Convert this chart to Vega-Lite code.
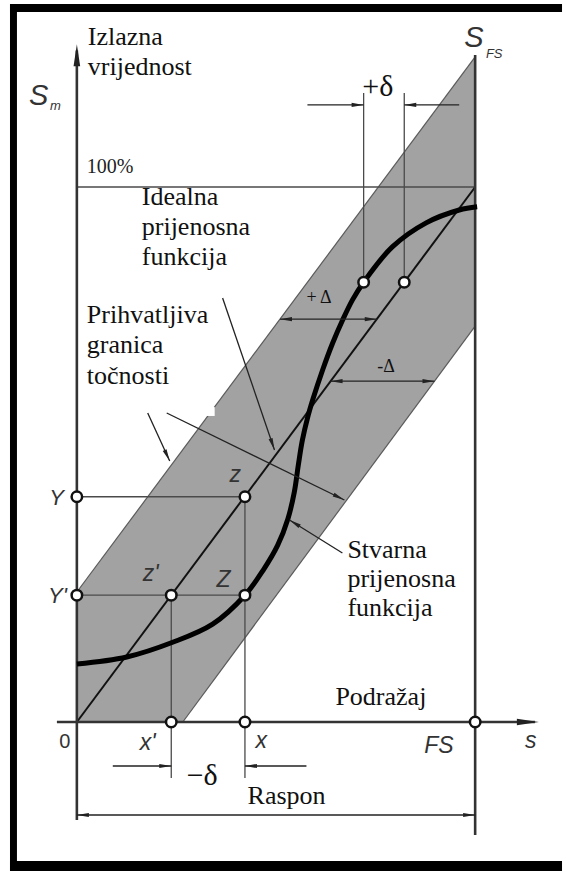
{
  "$schema": "https://vega.github.io/schema/vega-lite/v6.json",
  "width": 563,
  "height": 871,
  "autosize": {"type": "fit", "contains": "padding"},
  "padding": 0,
  "background": "white",
  "config": {"view": {"stroke": null}},
  "datasets": {
    "frame": [
      {"x": -16.79, "x2": -15.04, "y": -27.85, "y2": 134.2},
      {"x": -16.79, "x2": 121.81, "y": 132.7, "y2": 134.2},
      {"x": -16.79, "x2": 121.81, "y": -27.85, "y2": -25.98}
    ],
    "band": [
      {"x": 0, "lo": 0, "hi": 24.3},
      {"x": 26.6, "lo": 0, "hi": 50.9},
      {"x": 100, "lo": 74.0, "hi": 124.3}
    ],
    "bandEdges": [
      {"x": 0, "y": 24.3, "x2": 100, "y2": 124.3},
      {"x": 26.6, "y": 0, "x2": 100, "y2": 74.0}
    ],
    "patch": [{"x": 31.6, "x2": 34.6, "y": 57.2, "y2": 58.9}],
    "guides": [
      {"x": 0, "y": 100, "x2": 100, "y2": 100},
      {"x": 0, "y": 42.1, "x2": 42.2, "y2": 42.1},
      {"x": 0, "y": 23.7, "x2": 42.2, "y2": 23.7},
      {"x": 23.7, "y": 23.7, "x2": 23.7, "y2": -10.47},
      {"x": 42.2, "y": 42.1, "x2": 42.2, "y2": -10.47},
      {"x": 72.0, "y": 82.2, "x2": 72.0, "y2": 117.57},
      {"x": 82.2, "y": 82.2, "x2": 82.2, "y2": 117.57}
    ],
    "ideal": [{"x": 0, "y": 0, "x2": 100, "y2": 100}],
    "axes": [
      {"x": 0, "y": -18.32, "x2": 0, "y2": 125.5},
      {"x": -5.01, "y": 0, "x2": 115, "y2": 0},
      {"x": 100, "y": -21.12, "x2": 100, "y2": 124.67}
    ],
    "curve": [
      {"x": 0, "y": 10.84}, {"x": 12.53, "y": 12.15}, {"x": 24.06, "y": 14.9},
      {"x": 34.09, "y": 18.3}, {"x": 42.2, "y": 23.7}, {"x": 46.8, "y": 28.4},
      {"x": 50.4, "y": 33.0}, {"x": 53.0, "y": 38.0}, {"x": 54.6, "y": 43.0},
      {"x": 55.6, "y": 48.0}, {"x": 56.6, "y": 52.6}, {"x": 57.9, "y": 56.8},
      {"x": 59.3, "y": 60.4}, {"x": 61.7, "y": 65.8}, {"x": 64.2, "y": 70.8},
      {"x": 66.7, "y": 75.1}, {"x": 69.2, "y": 78.9}, {"x": 72.0, "y": 82.2},
      {"x": 79.2, "y": 88.8}, {"x": 87.7, "y": 93.3}, {"x": 96.0, "y": 95.7},
      {"x": 100.5, "y": 96.3}
    ],
    "pointers": [
      {"x": 57.89, "y": 115.33, "x2": 72.0, "y2": 115.33},
      {"x": 95.99, "y": 115.33, "x2": 82.2, "y2": 115.33},
      {"x": 9.02, "y": -8.22, "x2": 23.7, "y2": -8.22},
      {"x": 57.64, "y": -8.22, "x2": 42.2, "y2": -8.22},
      {"x": 0, "y": -17.38, "x2": 100, "y2": -17.38},
      {"x": 51.0, "y": 75.3, "x2": 75.3, "y2": 75.3},
      {"x": 63.7, "y": 63.7, "x2": 89.8, "y2": 63.7},
      {"x": 36.59, "y": 79.25, "x2": 49.62, "y2": 50.84},
      {"x": 17.79, "y": 57.76, "x2": 23.31, "y2": 48.79},
      {"x": 22.56, "y": 57.76, "x2": 67.17, "y2": 41.5},
      {"x": 66.67, "y": 31.59, "x2": 53.38, "y2": 37.76}
    ],
    "heads": [
      {"x": 72.0, "y": 115.33, "angle": 90}, {"x": 82.2, "y": 115.33, "angle": 270},
      {"x": 23.7, "y": -8.22, "angle": 90}, {"x": 42.2, "y": -8.22, "angle": 270},
      {"x": 0, "y": -17.38, "angle": 270}, {"x": 100, "y": -17.38, "angle": 90},
      {"x": 51.0, "y": 75.3, "angle": 270}, {"x": 75.3, "y": 75.3, "angle": 90},
      {"x": 63.7, "y": 63.7, "angle": 270}, {"x": 89.8, "y": 63.7, "angle": 90},
      {"x": 49.62, "y": 50.84, "angle": 161}, {"x": 23.31, "y": 48.79, "angle": 155},
      {"x": 67.17, "y": 41.5, "angle": 116}, {"x": 53.38, "y": 37.76, "angle": 302}
    ],
    "axisHeads": [
      {"x": 0, "y": 126.7, "angle": 0},
      {"x": 116.0, "y": 0, "angle": 90}
    ],
    "nodes": [
      {"x": 0, "y": 42.1}, {"x": 42.2, "y": 42.1}, {"x": 0, "y": 23.7},
      {"x": 23.7, "y": 23.7}, {"x": 42.2, "y": 23.7}, {"x": 23.7, "y": 0},
      {"x": 42.2, "y": 0}, {"x": 100, "y": 0}, {"x": 72.0, "y": 82.2},
      {"x": 82.2, "y": 82.2}
    ],
    "serifText": [
      {"x": 2.76, "y": 126.54, "t": "Izlazna"},
      {"x": 2.76, "y": 120.93, "t": "vrijednost"},
      {"x": 16.29, "y": 96.64, "t": "Idealna"},
      {"x": 16.29, "y": 91.03, "t": "prijenosna"},
      {"x": 16.29, "y": 85.42, "t": "funkcija"},
      {"x": 2.51, "y": 74.58, "t": "Prihvatljiva"},
      {"x": 2.51, "y": 68.97, "t": "granica"},
      {"x": 2.51, "y": 63.18, "t": "točnosti"},
      {"x": 67.92, "y": 30.65, "t": "Stvarna"},
      {"x": 67.92, "y": 25.23, "t": "prijenosna"},
      {"x": 67.92, "y": 19.81, "t": "funkcija"},
      {"x": 64.91, "y": 3.18, "t": "Podražaj"},
      {"x": 42.86, "y": -15.33, "t": "Raspon"}
    ],
    "pctText": [{"x": 2.51, "y": 102.6, "t": "100%"}],
    "deltaText": [
      {"x": 71.68, "y": 117.01, "t": "+δ"},
      {"x": 27.57, "y": -11.78, "t": "−δ"}
    ],
    "bigDeltaText": [
      {"x": 57.64, "y": 78.32, "t": "+ Δ"},
      {"x": 75.44, "y": 65.42, "t": "-Δ"}
    ],
    "labelsRight": [
      {"x": -3.26, "y": 40.56, "t": "Y"},
      {"x": -2.51, "y": 22.24, "t": "Y'"}
    ],
    "labelsLeft": [
      {"x": 16.54, "y": 26.36, "t": "z'"},
      {"x": 35.09, "y": 25.23, "t": "Z"},
      {"x": 38.35, "y": 44.86, "t": "z"},
      {"x": 15.79, "y": -5.23, "t": "x'"},
      {"x": 44.86, "y": -4.86, "t": "x"},
      {"x": 87.22, "y": -5.79, "t": "FS"},
      {"x": 112.53, "y": -4.86, "t": "s"}
    ],
    "zeroText": [{"x": -3.01, "y": -4.86, "t": "0"}],
    "bigS": [
      {"x": -12.03, "y": 115.33, "t": "S"},
      {"x": 97.24, "y": 126.17, "t": "S"}
    ],
    "subs": [
      {"x": -6.77, "y": 114.4, "t": "m"},
      {"x": 102.7, "y": 124.11, "t": "FS"}
    ]
  },
  "layer": [
    {
      "data": {"name": "frame"},
      "mark": {"type": "rect", "color": "black"},
      "encoding": {
        "x": {"field": "x", "type": "quantitative", "scale": {"domain": [-19.298, 121.805], "nice": false, "zero": false}, "axis": null},
        "x2": {"field": "x2"},
        "y": {"field": "y", "type": "quantitative", "scale": {"domain": [-27.85, 134.95], "nice": false, "zero": false}, "axis": null},
        "y2": {"field": "y2"}
      }
    },
    {
      "data": {"name": "band"},
      "mark": {"type": "area", "color": "#a2a2a2", "opacity": 1},
      "encoding": {
        "x": {"field": "x", "type": "quantitative", "scale": {"domain": [-19.298, 121.805], "nice": false, "zero": false}, "axis": null},
        "y": {"field": "lo", "type": "quantitative", "scale": {"domain": [-27.85, 134.95], "nice": false, "zero": false}, "axis": null},
        "y2": {"field": "hi"}
      }
    },
    {
      "data": {"name": "bandEdges"},
      "mark": {"type": "rule", "color": "#5a5a5a", "strokeWidth": 1.2},
      "encoding": {
        "x": {"field": "x", "type": "quantitative", "scale": {"domain": [-19.298, 121.805], "nice": false, "zero": false}, "axis": null},
        "x2": {"field": "x2"},
        "y": {"field": "y", "type": "quantitative", "scale": {"domain": [-27.85, 134.95], "nice": false, "zero": false}, "axis": null},
        "y2": {"field": "y2"}
      }
    },
    {
      "data": {"name": "patch"},
      "mark": {"type": "rect", "color": "white"},
      "encoding": {
        "x": {"field": "x", "type": "quantitative", "scale": {"domain": [-19.298, 121.805], "nice": false, "zero": false}, "axis": null},
        "x2": {"field": "x2"},
        "y": {"field": "y", "type": "quantitative", "scale": {"domain": [-27.85, 134.95], "nice": false, "zero": false}, "axis": null},
        "y2": {"field": "y2"}
      }
    },
    {
      "data": {"name": "guides"},
      "mark": {"type": "rule", "color": "#4a4a4a", "strokeWidth": 1.3},
      "encoding": {
        "x": {"field": "x", "type": "quantitative", "scale": {"domain": [-19.298, 121.805], "nice": false, "zero": false}, "axis": null},
        "x2": {"field": "x2"},
        "y": {"field": "y", "type": "quantitative", "scale": {"domain": [-27.85, 134.95], "nice": false, "zero": false}, "axis": null},
        "y2": {"field": "y2"}
      }
    },
    {
      "data": {"name": "ideal"},
      "mark": {"type": "rule", "color": "#111111", "strokeWidth": 2},
      "encoding": {
        "x": {"field": "x", "type": "quantitative", "scale": {"domain": [-19.298, 121.805], "nice": false, "zero": false}, "axis": null},
        "x2": {"field": "x2"},
        "y": {"field": "y", "type": "quantitative", "scale": {"domain": [-27.85, 134.95], "nice": false, "zero": false}, "axis": null},
        "y2": {"field": "y2"}
      }
    },
    {
      "data": {"name": "axes"},
      "mark": {"type": "rule", "color": "#333333", "strokeWidth": 2.6},
      "encoding": {
        "x": {"field": "x", "type": "quantitative", "scale": {"domain": [-19.298, 121.805], "nice": false, "zero": false}, "axis": null},
        "x2": {"field": "x2"},
        "y": {"field": "y", "type": "quantitative", "scale": {"domain": [-27.85, 134.95], "nice": false, "zero": false}, "axis": null},
        "y2": {"field": "y2"}
      }
    },
    {
      "data": {"name": "curve"},
      "mark": {"type": "line", "color": "black", "strokeWidth": 5, "interpolate": "catmull-rom", "strokeCap": "butt"},
      "encoding": {
        "x": {"field": "x", "type": "quantitative", "scale": {"domain": [-19.298, 121.805], "nice": false, "zero": false}, "axis": null},
        "y": {"field": "y", "type": "quantitative", "scale": {"domain": [-27.85, 134.95], "nice": false, "zero": false}, "axis": null}
      }
    },
    {
      "data": {"name": "pointers"},
      "mark": {"type": "rule", "color": "#222222", "strokeWidth": 1.3},
      "encoding": {
        "x": {"field": "x", "type": "quantitative", "scale": {"domain": [-19.298, 121.805], "nice": false, "zero": false}, "axis": null},
        "x2": {"field": "x2"},
        "y": {"field": "y", "type": "quantitative", "scale": {"domain": [-27.85, 134.95], "nice": false, "zero": false}, "axis": null},
        "y2": {"field": "y2"}
      }
    },
    {
      "data": {"name": "heads"},
      "mark": {"type": "point", "shape": "M0,0L-0.35,2L0.35,2Z", "filled": true, "color": "#222222", "opacity": 1, "size": 144},
      "encoding": {
        "x": {"field": "x", "type": "quantitative", "scale": {"domain": [-19.298, 121.805], "nice": false, "zero": false}, "axis": null},
        "y": {"field": "y", "type": "quantitative", "scale": {"domain": [-27.85, 134.95], "nice": false, "zero": false}, "axis": null},
        "angle": {"field": "angle", "type": "quantitative", "scale": null}
      }
    },
    {
      "data": {"name": "axisHeads"},
      "mark": {"type": "point", "shape": "M0,0L-0.3,2L0.3,2Z", "filled": true, "color": "#222222", "opacity": 1, "size": 484},
      "encoding": {
        "x": {"field": "x", "type": "quantitative", "scale": {"domain": [-19.298, 121.805], "nice": false, "zero": false}, "axis": null},
        "y": {"field": "y", "type": "quantitative", "scale": {"domain": [-27.85, 134.95], "nice": false, "zero": false}, "axis": null},
        "angle": {"field": "angle", "type": "quantitative", "scale": null}
      }
    },
    {
      "data": {"name": "nodes"},
      "mark": {"type": "point", "shape": "circle", "filled": true, "fill": "white", "stroke": "#111111", "strokeWidth": 2.5, "opacity": 1, "size": 110},
      "encoding": {
        "x": {"field": "x", "type": "quantitative", "scale": {"domain": [-19.298, 121.805], "nice": false, "zero": false}, "axis": null},
        "y": {"field": "y", "type": "quantitative", "scale": {"domain": [-27.85, 134.95], "nice": false, "zero": false}, "axis": null}
      }
    },
    {
      "data": {"name": "serifText"},
      "mark": {"type": "text", "font": "Liberation Serif", "fontSize": 26, "align": "left", "baseline": "alphabetic", "color": "#111111"},
      "encoding": {
        "x": {"field": "x", "type": "quantitative", "scale": {"domain": [-19.298, 121.805], "nice": false, "zero": false}, "axis": null},
        "y": {"field": "y", "type": "quantitative", "scale": {"domain": [-27.85, 134.95], "nice": false, "zero": false}, "axis": null},
        "text": {"field": "t"}
      }
    },
    {
      "data": {"name": "pctText"},
      "mark": {"type": "text", "font": "Liberation Serif", "fontSize": 20, "align": "left", "baseline": "alphabetic", "color": "#222222"},
      "encoding": {
        "x": {"field": "x", "type": "quantitative", "scale": {"domain": [-19.298, 121.805], "nice": false, "zero": false}, "axis": null},
        "y": {"field": "y", "type": "quantitative", "scale": {"domain": [-27.85, 134.95], "nice": false, "zero": false}, "axis": null},
        "text": {"field": "t"}
      }
    },
    {
      "data": {"name": "deltaText"},
      "mark": {"type": "text", "font": "Liberation Serif", "fontSize": 30, "align": "left", "baseline": "alphabetic", "color": "#111111"},
      "encoding": {
        "x": {"field": "x", "type": "quantitative", "scale": {"domain": [-19.298, 121.805], "nice": false, "zero": false}, "axis": null},
        "y": {"field": "y", "type": "quantitative", "scale": {"domain": [-27.85, 134.95], "nice": false, "zero": false}, "axis": null},
        "text": {"field": "t"}
      }
    },
    {
      "data": {"name": "bigDeltaText"},
      "mark": {"type": "text", "font": "Liberation Serif", "fontSize": 18, "align": "left", "baseline": "alphabetic", "color": "#111111"},
      "encoding": {
        "x": {"field": "x", "type": "quantitative", "scale": {"domain": [-19.298, 121.805], "nice": false, "zero": false}, "axis": null},
        "y": {"field": "y", "type": "quantitative", "scale": {"domain": [-27.85, 134.95], "nice": false, "zero": false}, "axis": null},
        "text": {"field": "t"}
      }
    },
    {
      "data": {"name": "labelsRight"},
      "mark": {"type": "text", "font": "Liberation Sans", "fontStyle": "italic", "fontSize": 22, "align": "right", "baseline": "alphabetic", "color": "#333333"},
      "encoding": {
        "x": {"field": "x", "type": "quantitative", "scale": {"domain": [-19.298, 121.805], "nice": false, "zero": false}, "axis": null},
        "y": {"field": "y", "type": "quantitative", "scale": {"domain": [-27.85, 134.95], "nice": false, "zero": false}, "axis": null},
        "text": {"field": "t"}
      }
    },
    {
      "data": {"name": "labelsLeft"},
      "mark": {"type": "text", "font": "Liberation Sans", "fontStyle": "italic", "fontSize": 23, "align": "left", "baseline": "alphabetic", "color": "#333333"},
      "encoding": {
        "x": {"field": "x", "type": "quantitative", "scale": {"domain": [-19.298, 121.805], "nice": false, "zero": false}, "axis": null},
        "y": {"field": "y", "type": "quantitative", "scale": {"domain": [-27.85, 134.95], "nice": false, "zero": false}, "axis": null},
        "text": {"field": "t"}
      }
    },
    {
      "data": {"name": "zeroText"},
      "mark": {"type": "text", "font": "Liberation Sans", "fontSize": 20, "align": "center", "baseline": "alphabetic", "color": "#333333"},
      "encoding": {
        "x": {"field": "x", "type": "quantitative", "scale": {"domain": [-19.298, 121.805], "nice": false, "zero": false}, "axis": null},
        "y": {"field": "y", "type": "quantitative", "scale": {"domain": [-27.85, 134.95], "nice": false, "zero": false}, "axis": null},
        "text": {"field": "t"}
      }
    },
    {
      "data": {"name": "bigS"},
      "mark": {"type": "text", "font": "Liberation Sans", "fontStyle": "italic", "fontSize": 29, "align": "left", "baseline": "alphabetic", "color": "#333333"},
      "encoding": {
        "x": {"field": "x", "type": "quantitative", "scale": {"domain": [-19.298, 121.805], "nice": false, "zero": false}, "axis": null},
        "y": {"field": "y", "type": "quantitative", "scale": {"domain": [-27.85, 134.95], "nice": false, "zero": false}, "axis": null},
        "text": {"field": "t"}
      }
    },
    {
      "data": {"name": "subs"},
      "mark": {"type": "text", "font": "Liberation Sans", "fontStyle": "italic", "fontSize": 13, "align": "left", "baseline": "alphabetic", "color": "#333333"},
      "encoding": {
        "x": {"field": "x", "type": "quantitative", "scale": {"domain": [-19.298, 121.805], "nice": false, "zero": false}, "axis": null},
        "y": {"field": "y", "type": "quantitative", "scale": {"domain": [-27.85, 134.95], "nice": false, "zero": false}, "axis": null},
        "text": {"field": "t"}
      }
    }
  ]
}
